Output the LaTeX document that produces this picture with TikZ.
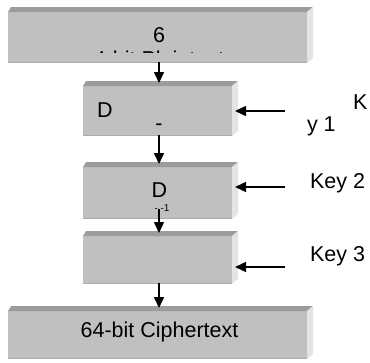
\documentclass[tikz,border=0pt]{standalone}
\usepackage{fontspec}
\setmainfont{Liberation Sans}
\usetikzlibrary{arrows.meta,calc}
\definecolor{slabface}{HTML}{C0C0C0}
\definecolor{slabtop}{HTML}{9C9C9C}
\definecolor{slabside}{HTML}{E4E4E4}
\definecolor{slabedge}{HTML}{ABABAB}
\begin{document}
\begin{tikzpicture}[x=1pt,y=-1pt,
  slab/.style={fill=slabface, draw=none, inner sep=0pt, outer sep=0pt},
  arr/.style={line width=1.5pt, -{Triangle[width=10pt,length=11pt]}},
  lbl/.style={font=\fontsize{21.5}{25}\selectfont, inner sep=0pt, outer sep=0pt},
  tiny/.style={font=\fontsize{10}{12}\selectfont, inner sep=0pt, outer sep=0pt},
  ]
\useasboundingbox (0,0) rectangle (370,362);

% the five slabs (front faces)
\node[slab, minimum width=299pt, minimum height=50pt] (pt) at (157.5,37)   {};
\node[slab, minimum width=149pt, minimum height=49pt] (e1) at (157.5,110.5) {};
\node[slab, minimum width=149pt, minimum height=51pt] (d2) at (157.5,192.5) {};
\node[slab, minimum width=149pt, minimum height=47pt] (e3) at (157.5,259.5) {};
\node[slab, minimum width=299pt, minimum height=47pt] (ct) at (157.5,334.5) {};

% bevelled top and right side of every slab
\foreach \b in {pt,e1,d2,e3,ct} {
  \fill[slabtop] (\b.north west) -- ++(3,-5) -- ($(\b.north east)+(6,-5)$)
                 -- (\b.north east) -- cycle;
  \fill[slabside] (\b.north east) -- ++(6,-5) -- ($(\b.south east)+(6,-4)$)
                  -- ($(\b.south east)+(0,1)$) -- cycle;
  \draw[slabedge, line width=1pt] (\b.south west) -- (\b.south east);
}

% texts inside the slabs
\node[lbl, anchor=base] (t6) at (159,42.5) {6};
\begin{scope}
  \clip (90,50.2) rectangle (230,52.2);
  \node[lbl, anchor=base] (tpl) at (159,66) {4-bit Plaintext};
\end{scope}
\node[lbl, anchor=base west] (td1) at (97,117) {D};
\node[lbl, anchor=base] (tdash) at (159,130.5) {-};
\node[lbl, anchor=base] (td2) at (159.5,197.5) {D};
\node[tiny, anchor=base] (tinv) at (162,211) {- -1};
\node[lbl, anchor=base] (tct) at (159.5,337.5) {64-bit Ciphertext};

% key labels
\node[lbl, anchor=base west] (kk) at (353,109) {K};
\node[lbl, anchor=base west] (ky) at (307,131.5) {y 1};
\node[lbl, anchor=base west] (k2l) at (310,188.5) {Key 2};
\node[lbl, anchor=base west] (k3l) at (310,261) {Key 3};

% data flow down the chain
\draw[arr] ([xshift=1.5pt]pt.south) -- ([xshift=1.5pt,yshift=3pt]e1.north);
\draw[arr] ([xshift=1.5pt]e1.south) -- ([xshift=1.5pt,yshift=3pt]d2.north);
\draw[arr] ([xshift=1.5pt,yshift=9pt]d2.south) -- ([xshift=1.5pt,yshift=3pt]e3.north);
\draw[arr] ([xshift=1.5pt]e3.south) -- ([xshift=1.5pt,yshift=3pt]ct.north);

% key inputs
\coordinate (k1) at (285,111);
\coordinate (k2) at (285,187);
\coordinate (k3) at (285,267);
\draw[arr] (k1) -- ($(k1 -| e1.east)+(3,0)$);
\draw[arr] (k2) -- ($(k2 -| d2.east)+(3,0)$);
\draw[arr] (k3) -- ($(k3 -| e3.east)+(3,0)$);
\end{tikzpicture}
\end{document}
